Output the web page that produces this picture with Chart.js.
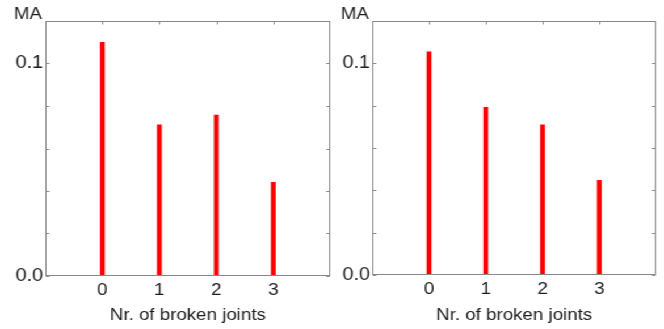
<!DOCTYPE html>
<html>
<head>
<meta charset="utf-8">
<script src="https://cdn.jsdelivr.net/npm/chart.js@4/dist/chart.umd.min.js"></script>
<style>
  html, body { margin: 0; padding: 0; background: #fff; overflow: hidden; }
  /* the original picture is a little wider than its font heights suggest, so stretch */
  #wrap {
    position: absolute; left: 0; top: 0; width: 585px; height: 329px;
    transform: scaleX(1.135); transform-origin: 0 0;
  }
  canvas { position: absolute; top: 0; }
</style>
</head>
<body>
<div id="wrap">
  <canvas id="left" width="292" height="329" style="left:0px"></canvas>
  <canvas id="right" width="293" height="329" style="left:292px"></canvas>
</div>
<script>
const jointCounts = [0, 1, 2, 3];
const maLeft = [0.110, 0.0711, 0.0757, 0.0441];
const maRight = [0.1054, 0.0792, 0.0709, 0.0447];
const xTickLabels = ["0", "1", "2", "3"];
const yTickValues = [0, 0.02, 0.04, 0.06, 0.08, 0.1, 0.12];
const yTickLabels = ["0.0", "", "", "", "", "0.1", ""];

const textColor = "#1e1e1e";
const frameColor = "#888888";
const fontFamily = '"Liberation Sans", Arial, sans-serif';

// box around the plot, small inward ticks and the "MA" label
const frameAndTicks = {
  id: "frameAndTicks",
  afterDatasetsDraw(chart) {
    const { ctx, chartArea: a, scales } = chart;
    const l = Math.round(a.left) + 0.5;
    const r = Math.round(a.right) - 0.5;
    const t = Math.round(a.top) + 0.5;
    const b = Math.round(a.bottom) - 0.5;
    ctx.save();
    ctx.strokeStyle = frameColor;
    ctx.lineWidth = 1;
    ctx.strokeRect(l, t, r - l, b - t);

    ctx.beginPath();
    yTickValues.forEach((v) => {
      const y = Math.round(scales.y.getPixelForValue(v)) + 0.5;
      ctx.moveTo(l, y);
      ctx.lineTo(l + 3, y);
      ctx.moveTo(r, y);
      ctx.lineTo(r - 3, y);
    });
    jointCounts.forEach((v) => {
      const x = Math.round(scales.x.getPixelForValue(v)) + 0.5;
      ctx.moveTo(x, t);
      ctx.lineTo(x, t + 3);
    });
    ctx.stroke();

    ctx.fillStyle = textColor;
    ctx.font = "16.5px " + fontFamily;
    ctx.textAlign = "right";
    ctx.textBaseline = "middle";
    ctx.fillText("MA", a.left - 3, 14);
    ctx.restore();
  },
};

function createPanel(canvasId, values, yWidth, padRight, xHeight) {
  const ctx = document.getElementById(canvasId).getContext("2d");
  return new Chart(ctx, {
    type: "bar",
    data: {
      datasets: [
        {
          data: jointCounts.map((x, i) => ({ x: x, y: values[i] })),
          backgroundColor: "#ff0000",
          borderWidth: 0,
          barThickness: 3.6,
        },
      ],
    },
    options: {
      responsive: false,
      animation: false,
      layout: { padding: { left: 0, right: padRight, top: 21, bottom: 0 } },
      plugins: {
        legend: { display: false },
        tooltip: { enabled: false },
      },
      scales: {
        x: {
          type: "linear",
          min: -1,
          max: 4,
          offset: false,
          grid: { display: false, drawTicks: false },
          border: { display: false },
          afterBuildTicks: (scale) => {
            scale.ticks = jointCounts.map((v) => ({ value: v }));
          },
          afterFit: (scale) => {
            scale.height = xHeight;
          },
          ticks: {
            padding: 5,
            color: textColor,
            font: { family: fontFamily, size: 16.5 },
            maxRotation: 0,
            callback: (v) => xTickLabels[jointCounts.indexOf(v)],
          },
          title: {
            display: true,
            text: "Nr. of broken joints",
            color: textColor,
            font: { family: fontFamily, size: 16.5 },
            padding: { top: 0, bottom: 4 },
          },
        },
        y: {
          min: 0,
          max: 0.12,
          grid: { display: false, drawTicks: false },
          border: { display: false },
          afterBuildTicks: (scale) => {
            scale.ticks = yTickValues.map((v) => ({ value: v }));
          },
          afterFit: (scale) => {
            scale.width = yWidth;
          },
          ticks: {
            padding: 2,
            color: textColor,
            font: { family: fontFamily, size: 17.5 },
            callback: (v) => {
              const i = yTickValues.findIndex((t) => Math.abs(t - v) < 1e-9);
              return i >= 0 ? yTickLabels[i] : "";
            },
          },
        },
      },
    },
    plugins: [frameAndTicks],
  });
}

createPanel("left", maLeft, 40, 1, 53);
createPanel("right", maRight, 36, 7, 54);
</script>
</body>
</html>
